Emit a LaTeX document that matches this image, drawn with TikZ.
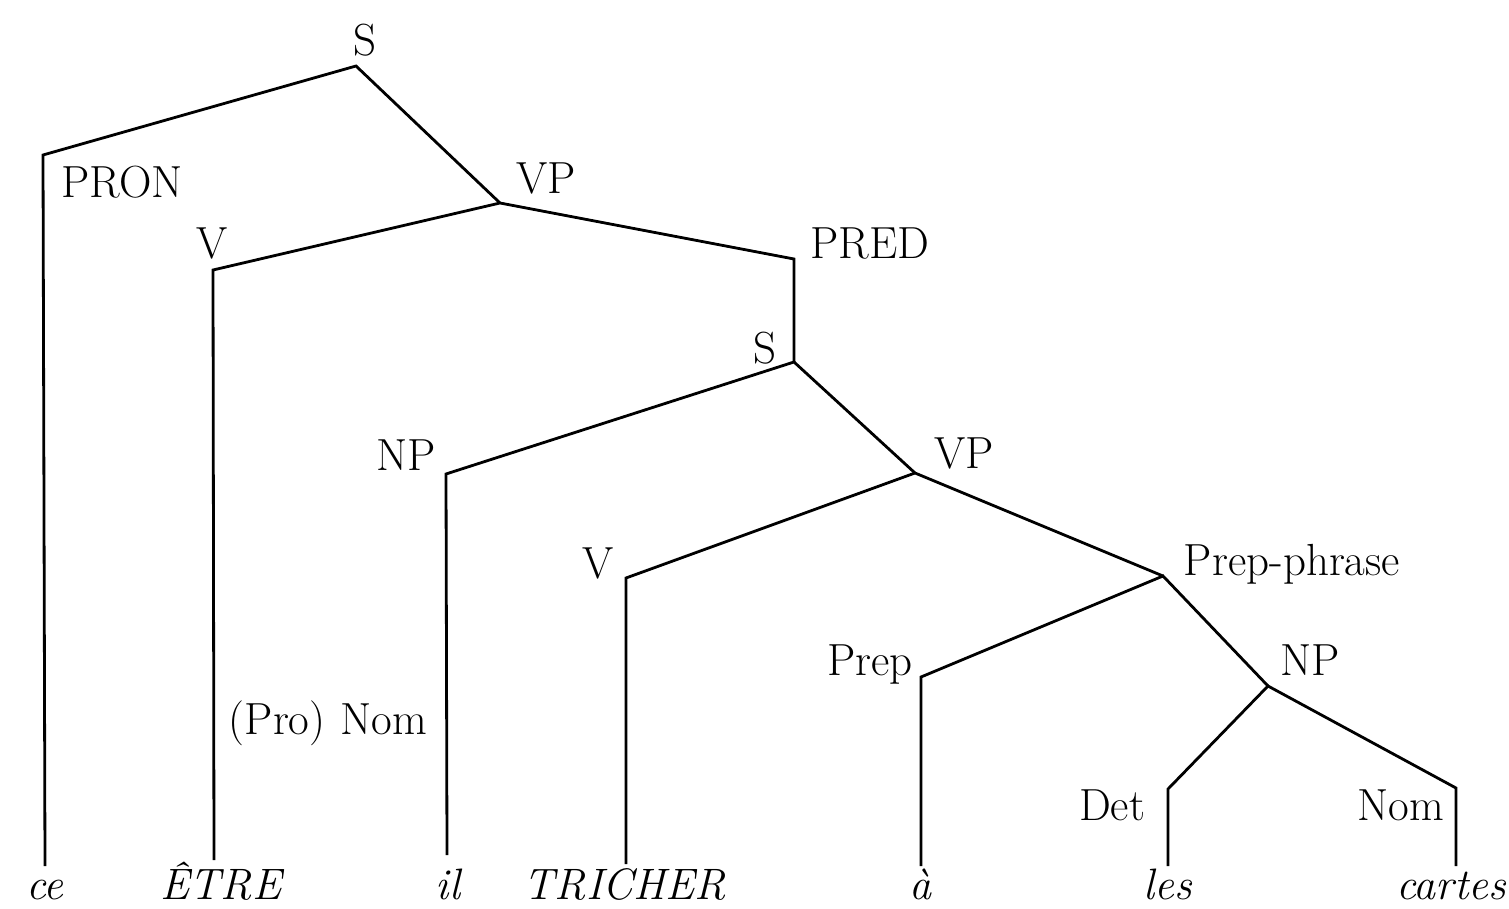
\documentclass[tikz,border=0pt]{standalone}
\begin{document}
\begin{tikzpicture}[x=1pt,y=-1pt,
  lab/.style={inner sep=0pt,font=\fontsize{45}{54}\selectfont},
  leaf/.style={inner sep=0pt,anchor=base,font=\fontsize{44}{52}\selectfont\itshape},
  branch/.style={line width=2.8pt,line join=miter}]
\useasboundingbox (0,0) rectangle (1509,909);
% junctions
\coordinate (jS1) at (356,66);
\coordinate (jPRON) at (43,155);
\coordinate (jVP1) at (500,203);
\coordinate (jV1) at (213,270);
\coordinate (jPRED) at (794,259);
\coordinate (jS2) at (794,362);
\coordinate (jNP1) at (446,474);
\coordinate (jVP2) at (915,473);
\coordinate (jV2) at (626,578);
\coordinate (jPP) at (1163,576);
\coordinate (jPrep) at (921,677);
\coordinate (jNP2) at (1268,686);
\coordinate (jDet) at (1168,789);
\coordinate (jNom) at (1456,788);
% bottoms of stems
\coordinate (bce) at (45,866);
\coordinate (betre) at (214,860);
\coordinate (bil) at (447,855);
\coordinate (btr) at (626,864);
\coordinate (ba) at (921,866);
\coordinate (bles) at (1168,866);
\coordinate (bcartes) at (1456,866);
% labels
\node[lab] (lS1) at (365,40) {S};
\node[lab] (lPRON) at (122,182) {PRON};
\node[lab] (lVP1) at (546,178) {VP};
\node[lab] (lV1) at (212,243) {V};
\node[lab] (lPRED) at (870,243) {PRED};
\node[lab] (lS2) at (765,348) {S};
\node[lab] (lNP1) at (406,455) {NP};
\node[lab] (lVP2) at (964,453) {VP};
\node[lab] (lV2) at (598,563) {V};
\node[lab] (lPP) at (1292,564) {Prep-phrase};
\node[lab] (lPrep) at (870,665) {Prep};
\node[lab] (lNP2) at (1310,660) {NP};
\node[lab] (lDet) at (1112,805) {Det};
\node[lab] (lNom2) at (1401,805) {Nom};
\node[lab] (lProNom) at (328,723) {(Pro)\,\,Nom};
% leaves
\node[leaf] (ce) at (45,899) {ce};
\node[leaf] (etre) at (221,899) {ÊTRE};
\node[leaf] (il) at (448,899) {il};
\node[leaf] (tricher) at (625,899) {TRICHER};
\node[leaf] (a) at (920,899) {à};
\node[leaf] (les) at (1168,899) {les};
\node[leaf,anchor=base east] (cartes) at (1506,899) {cartes};
% branches
\draw[branch] (bce) -- (jPRON) -- (jS1) -- (jVP1);
\draw[branch] (betre) -- (jV1) -- (jVP1) -- (jPRED) -- (jS2);
\draw[branch] (bil) -- (jNP1) -- (jS2) -- (jVP2);
\draw[branch] (btr) -- (jV2) -- (jVP2) -- (jPP);
\draw[branch] (ba) -- (jPrep) -- (jPP) -- (jNP2);
\draw[branch] (bles) -- (jDet) -- (jNP2) -- (jNom) -- (bcartes);
\end{tikzpicture}
\end{document}
